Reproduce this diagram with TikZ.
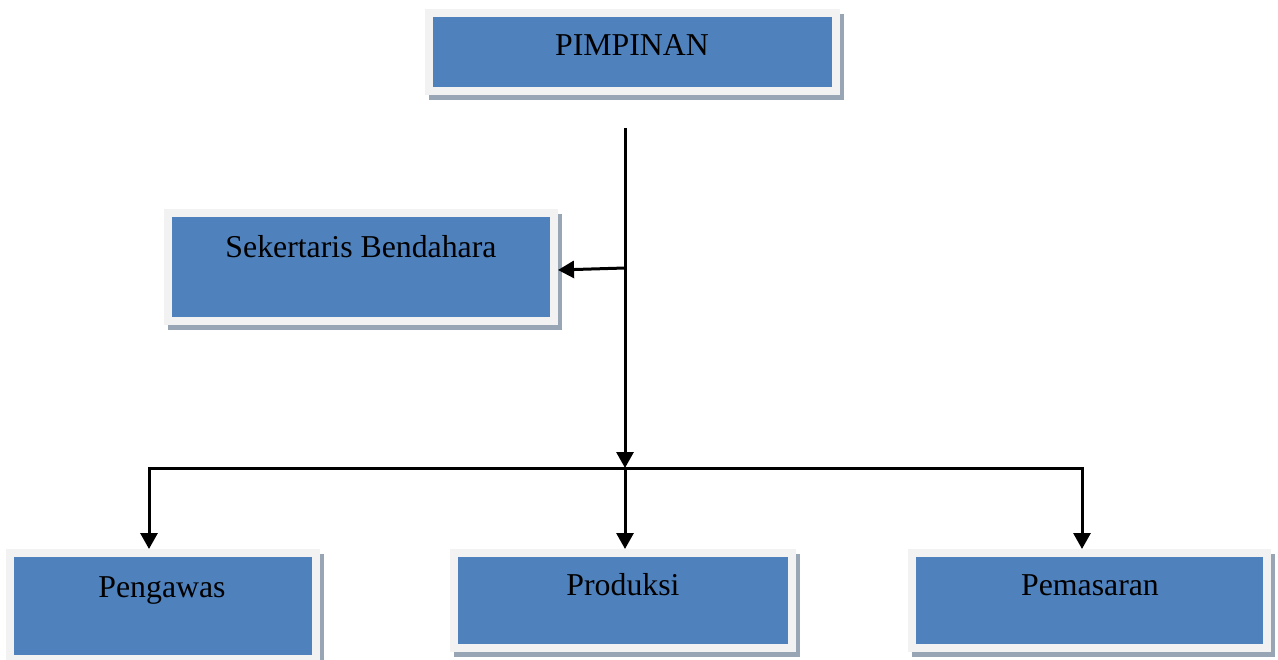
\documentclass[tikz,border=0pt]{standalone}
\usepackage{fontspec}
\setmainfont{Liberation Serif}
\usetikzlibrary{arrows.meta,shadows}
\definecolor{boxblue}{HTML}{4F81BD}
\definecolor{framegray}{HTML}{F2F2F2}
\definecolor{shadowgray}{HTML}{98A5B5}
\begin{document}
\begin{tikzpicture}[x=1pt,y=-1pt,
  orgbox/.style={rectangle, inner sep=0pt, fill=boxblue, draw=framegray, line width=8pt,
    general shadow={shadow xshift=4pt, shadow yshift=-5pt, fill=shadowgray, draw=shadowgray, line width=8pt}},
  lbl/.style={anchor=base, inner sep=0pt, font=\fontsize{31.8}{36}\selectfont, text=black},
  conn/.style={line width=3pt, draw=black},
  arr/.style={conn, -{Triangle[length=16pt,width=17pt]}}
]
\useasboundingbox (0,0) rectangle (1278,660);
% boxes (blue area + 8 for frame centre line)
\node[orgbox, minimum width=407pt, minimum height=78pt] (p) at (632.5,52) {};
\node[orgbox, minimum width=386pt, minimum height=108pt] (s) at (361,267) {};
\node[orgbox, minimum width=306pt, minimum height=106pt] (g) at (163,606) {};
\node[orgbox, minimum width=338pt, minimum height=95pt] (r) at (623,600.5) {};
\node[orgbox, minimum width=355pt, minimum height=95pt] (m) at (1089.5,600.5) {};
% labels
\node[lbl] (pt) at (632,56) {PIMPINAN};
\node[lbl] (st) at (361,258) {Sekertaris Bendahara};
\node[lbl] (gt) at (162,597) {Pengawas};
\node[lbl] (rt) at (623,595) {Produksi};
\node[lbl] (mt) at (1090,595) {Pemasaran};
% connectors
\coordinate (top) at (625,128);
\coordinate (sb) at (625,268);
\coordinate (j) at (625,468);
\coordinate (jl) at (149,468);
\coordinate (jr) at (1082,468);
\draw[arr] (top) -- (j);
\draw[arr] (sb) -- ([yshift=-3pt]s.east);
\draw[arr] (j) -- (r.north -| j);
\draw[arr] (j) -- (jl) -- (g.north -| jl);
\draw[arr] (j) -- (jr) -- (m.north -| jr);
\end{tikzpicture}
\end{document}
